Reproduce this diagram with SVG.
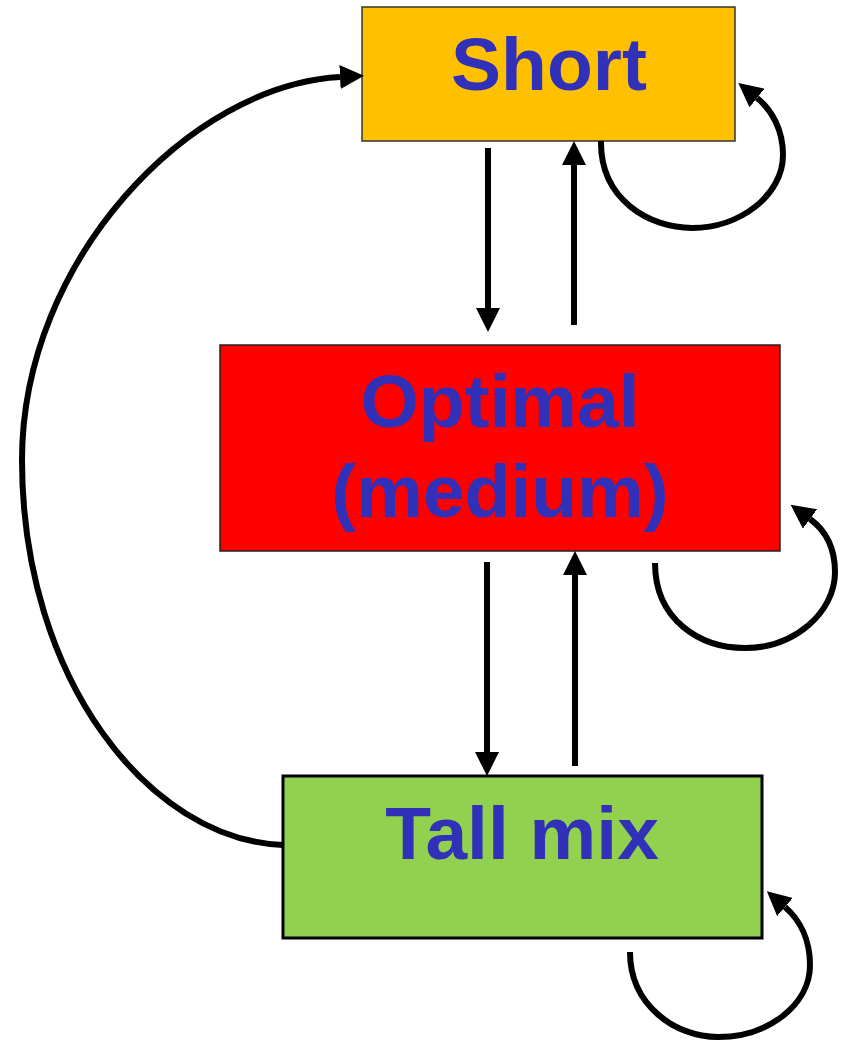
<svg xmlns="http://www.w3.org/2000/svg" width="844" height="1040" viewBox="0 0 844 1040">
<style>
.lbl{font-family:"Liberation Sans",Arial,sans-serif;font-weight:bold;fill:#3030B8;text-anchor:middle}
.con{fill:none;stroke:#000;stroke-width:6;marker-end:url(#ah)}
</style>
<defs>
<marker id="ah" markerUnits="userSpaceOnUse" markerWidth="24" markerHeight="24" refX="0" refY="12" orient="auto" viewBox="0 0 24 24">
<path d="M0,0 L24,12 L0,24 z" fill="#000"/>
</marker>
</defs>
<rect width="844" height="1040" fill="#fff"/>
<g id="short">
<rect x="362" y="7" width="373" height="134" fill="#FFC000" stroke="#333" stroke-width="1.5"/>
<text class="lbl" x="549" y="90" font-size="75">Short</text>
</g>
<g id="optimal">
<rect x="220" y="345" width="560" height="206" fill="#FF0000" stroke="#222" stroke-width="1.5"/>
<text class="lbl" x="500" y="427" font-size="75">Optimal</text>
<text class="lbl" x="500" y="517" font-size="75">(medium)</text>
</g>
<g id="tallmix">
<rect x="283" y="776" width="479" height="162" fill="#92D050" stroke="#000" stroke-width="3"/>
<text class="lbl" x="522" y="859" font-size="75">Tall mix</text>
</g>
<g id="connectors">
<path class="con" d="M488 148 L488 308"/>
<path class="con" d="M574 325 L574 165"/>
<path class="con" d="M487 562 L487 752"/>
<path class="con" d="M575 766 L575 575"/>
<path class="con" d="M601 141 C600 200,650 228,692 228 C740 228,783 195,783 155 C783 130,772 110,757 98"/>
<path class="con" d="M655 563 C655 620,700 648,745 648 C795 648,835 612,835 572 C835 548,825 530,810 519"/>
<path class="con" d="M630 952 C630 1005,675 1037,718 1037 C768 1037,810 1005,810 965 C810 940,800 920,785 907"/>
<path class="con" d="M283 845 C150 840,22 680,22 460 C22 260,190 85,340 77"/>
</g>
</svg>
